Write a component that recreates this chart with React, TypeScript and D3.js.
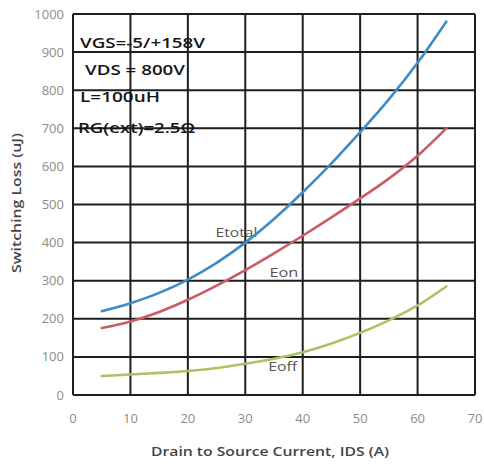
import React from "react";
import * as d3 from "d3";

// Drain current IDS (A) at which each switching energy is given
const currents = [5, 10, 15, 20, 25, 30, 35, 40, 45, 50, 55, 60, 65];
// Switching energies (uJ)
const eTotal = [220, 241, 268, 303, 347, 400, 462, 532, 608, 690, 776, 872, 980];
const eOn = [176, 193, 218, 250, 287, 328, 372, 418, 466, 516, 568, 628, 700];
const eOff = [50, 54, 58, 63, 71, 82, 95, 112, 135, 163, 196, 235, 285];

const xTicks = [0, 10, 20, 30, 40, 50, 60, 70];
const yTicks = [0, 100, 200, 300, 400, 500, 600, 700, 800, 900, 1000];

const conditions = ["VGS=-5/+158V", "VDS = 800V", "L=100uH", "RG(ext)=2.5Ω"];

const W = 484;
const H = 464;
const left = 73;
const right = 475;
const top = 14;
const bottom = 395;

export default function App() {
  const x = d3.scaleLinear().domain([0, 70]).range([left, right]);
  const y = d3.scaleLinear().domain([0, 1000]).range([bottom, top]);

  const line = d3
    .line<[number, number]>()
    .x((d) => x(d[0]))
    .y((d) => y(d[1]))
    .curve(d3.curveMonotoneX);

  const series = [
    { name: "Etotal", values: eTotal, color: "#3d8cc6" },
    { name: "Eon", values: eOn, color: "#c85d66" },
    { name: "Eoff", values: eOff, color: "#a9c466" },
  ];

  const font = "'Open Sans', 'Liberation Sans', sans-serif";

  // label positions for each curve, in data units, with drawn width
  const curveLabels = [
    { text: "Etotal", at: [24.8, 415], len: 42 },
    { text: "Eon", at: [34.2, 311], len: 29 },
    { text: "Eoff", at: [34, 64], len: 29 },
  ];

  const condLayout = [
    { dx: 80, base: 48, len: 125 },
    { dx: 85, base: 75, len: 100 },
    { dx: 80, base: 102, len: 80 },
    { dx: 78, base: 133, len: 117 },
  ];

  return (
    <svg
      width={W}
      height={H}
      style={{ position: "absolute", left: 0, top: 0, background: "#fff" }}
    >
      <rect x={0} y={0} width={W} height={H} fill="#fff" />
      {/* grid */}
      <g stroke="#1e1e1e" strokeWidth={2}>
        {xTicks.map((t) => (
          <line key={"vx" + t} x1={x(t)} x2={x(t)} y1={y(0)} y2={y(1000)} />
        ))}
        {yTicks.map((t) => (
          <line key={"hy" + t} x1={x(0)} x2={x(70)} y1={y(t)} y2={y(t)} />
        ))}
      </g>

      {/* tick labels */}
      <g fontFamily={font} fontSize={13} fill="#8c8c8c">
        {yTicks.map((t) => (
          <text key={"yl" + t} x={64} y={y(t) + 4.5} textAnchor="end">
            {t}
          </text>
        ))}
        {xTicks.map((t) => (
          <text key={"xl" + t} x={x(t)} y={423} textAnchor="middle">
            {t}
          </text>
        ))}
      </g>

      {/* curve names, under the curves */}
      <g fontFamily={font} fontSize={13.5} fill="#555">
        {curveLabels.map((l) => (
          <text
            key={l.text}
            x={x(l.at[0])}
            y={y(l.at[1])}
            textLength={l.len}
            lengthAdjust="spacingAndGlyphs"
          >
            {l.text}
          </text>
        ))}
      </g>

      {/* curves */}
      {series.map((s) => (
        <path
          key={s.name}
          d={line(currents.map((c, i) => [c, s.values[i]] as [number, number])) || ""}
          fill="none"
          stroke={s.color}
          strokeWidth={2.6}
          strokeLinecap="round"
        />
      ))}

      {/* test conditions */}
      <g fontFamily={font} fontSize={15} fontWeight={600} fill="#151515">
        {conditions.map((c, i) => (
          <text
            key={c}
            x={condLayout[i].dx}
            y={condLayout[i].base}
            textLength={condLayout[i].len}
            lengthAdjust="spacingAndGlyphs"
          >
            {c}
          </text>
        ))}
      </g>

      {/* axis titles */}
      <text
        x={270}
        y={456}
        textAnchor="middle"
        fontFamily={font}
        fontSize={13}
        fontWeight={600}
        fill="#444"
        textLength={238}
        lengthAdjust="spacingAndGlyphs"
      >
        Drain to Source Current, IDS (A)
      </text>
      <text
        transform="translate(21,203) rotate(-90)"
        textAnchor="middle"
        fontFamily={font}
        fontSize={13}
        fontWeight={600}
        fill="#444"
        textLength={140}
        lengthAdjust="spacingAndGlyphs"
      >
        Switching Loss (uJ)
      </text>
    </svg>
  );
}
